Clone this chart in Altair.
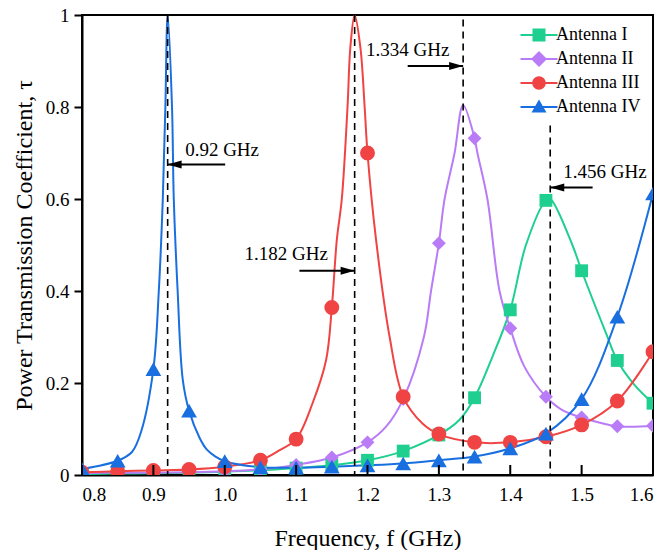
import altair as alt
import pandas as pd

# ---------------- data ----------------
series = ["Antenna I", "Antenna II", "Antenna III", "Antenna IV"]
colors = ["#1fcf8f", "#b97cf6", "#f04444", "#1a6fe0"]
marker_shapes = ["square", "diamond", "circle", "triangle-up"]
marker_sizes = [165, 250, 170, 200]

# marker frequencies (GHz)
freq = [0.80, 0.85, 0.90, 0.95, 1.00, 1.05, 1.10, 1.15, 1.20,
        1.25, 1.30, 1.35, 1.40, 1.45, 1.50, 1.55, 1.60]

# transmission coefficient at the markers
ant1 = [0.002, 0.003, 0.004, 0.005, 0.007, 0.010, 0.015, 0.021, 0.032,
        0.052, 0.087, 0.168, 0.359, 0.597, 0.444, 0.249, 0.156]
ant2 = [0.004, 0.005, 0.005, 0.006, 0.008, 0.012, 0.022, 0.038, 0.071,
        0.165, 0.504, 0.732, 0.319, 0.170, 0.125, 0.106, 0.107]
ant3 = [0.006, 0.008, 0.010, 0.012, 0.018, 0.032, 0.078, 0.364, 0.700,
        0.170, 0.089, 0.071, 0.071, 0.083, 0.109, 0.161, 0.268]
ant4 = [0.013, 0.031, 0.230, 0.140, 0.030, 0.017, 0.016, 0.018, 0.021,
        0.025, 0.032, 0.040, 0.058, 0.090, 0.165, 0.344, 0.612]

# additional points (between markers)
ant1_cf = [1.329, 1.375, 1.422, 1.456, 1.487, 1.534, 1.574]
ant1_ct = [0.120, 0.257, 0.500, 0.600, 0.500, 0.309, 0.196]
ant2_cf = [1.226, 1.279, 1.289, 1.308, 1.322, 1.334, 1.354, 1.368, 1.385, 1.420, 1.473]
ant2_ct = [0.105, 0.300, 0.400, 0.600, 0.700, 0.804, 0.700, 0.600, 0.400, 0.235, 0.141]
ant3_cf = [1.077, 1.123, 1.142, 1.157, 1.164, 1.172, 1.176, 1.182, 1.190, 1.196,
           1.212, 1.231, 1.277]
ant3_ct = [0.054, 0.156, 0.250, 0.511, 0.600, 0.800, 0.930, 1.000, 0.930, 0.800,
           0.511, 0.300, 0.112]
ant4_cf = [0.870, 0.883, 0.9076, 0.9132, 0.9168, 0.920, 0.9261, 0.9286, 0.934,
           0.9412, 0.965, 0.975, 0.987]
ant4_ct = [0.050, 0.095, 0.400, 0.600, 0.800, 1.000, 0.800, 0.600, 0.400,
           0.207, 0.080, 0.055, 0.040]

# resonance annotations
res_freq = [0.92, 1.182, 1.334, 1.456]
res_label = ["0.92 GHz", "1.182 GHz", "1.334 GHz", "1.456 GHz"]
dash_top = [1.0, 1.0, 0.99, 0.76]
arrow_tail = [1.0006, 1.1046, 1.2563, 1.5154]
arrow_y = [0.675, 0.444, 0.889, 0.625]
arrow_angle = [0, 180, 180, 0]
label_x = [0.9445, 1.0276, 1.198, 1.4744]
label_y = [0.706, 0.480, 0.924, 0.659]

x_ticks = [0.8, 0.9, 1.0, 1.1, 1.2, 1.3, 1.4, 1.5, 1.6]
y_ticks = [0, 0.2, 0.4, 0.6, 0.8, 1.0]

# ---------------- tables ----------------
markers = []
curves = []
all_vals = [ant1, ant2, ant3, ant4]
all_cf = [ant1_cf, ant2_cf, ant3_cf, ant4_cf]
all_ct = [ant1_ct, ant2_ct, ant3_ct, ant4_ct]
for s, vals, cf, ct in zip(series, all_vals, all_cf, all_ct):
    for f, t in zip(freq, vals):
        markers.append({"series": s, "f": f, "tau": t})
        curves.append({"series": s, "f": f, "tau": t})
    for f, t in zip(cf, ct):
        curves.append({"series": s, "f": f, "tau": t})
markers = pd.DataFrame(markers)
curves = pd.DataFrame(curves).sort_values(["series", "f"]).reset_index(drop=True)

ann = pd.DataFrame({"f": res_freq, "label": res_label, "top": dash_top,
                    "tail": arrow_tail, "ay": arrow_y, "angle": arrow_angle,
                    "lx": label_x, "ly": label_y})
ticks_df = pd.DataFrame({"f": x_ticks})
legend_df = pd.DataFrame({"legend": series})

FONT = "Liberation Serif"

xscale = alt.Scale(domain=[0.8, 1.6], nice=False, zero=False)
yscale = alt.Scale(domain=[0, 1], nice=False, zero=False)

x_axis = alt.Axis(values=x_ticks, format=".1f", title="Frequency, f (GHz)",
                  ticks=False, labelPadding=10, titleY=70,
                  titleBaseline="alphabetic",
                  labelFont=FONT, labelFontSize=19, labelColor="black",
                  titleFont=FONT, titleFontSize=24, titleFontWeight="normal",
                  titleColor="black", domainColor="black", domainWidth=2,
                  grid=False)
y_axis = alt.Axis(values=y_ticks, format="~g",
                  title="Power Transmission Coefficient, \u03c4",
                  tickSize=8, tickWidth=2, tickColor="black", labelPadding=5,
                  titleX=-51, titleBaseline="alphabetic",
                  labelFont=FONT, labelFontSize=19, labelColor="black",
                  titleFont=FONT, titleFontSize=24, titleFontWeight="normal",
                  titleColor="black", domainColor="black", domainWidth=2,
                  grid=False)


def xq(field):
    return alt.X(field, type="quantitative", scale=xscale, axis=x_axis)


def yq(field):
    return alt.Y(field, type="quantitative", scale=yscale, axis=y_axis)


color_sc = alt.Scale(domain=series, range=colors)

lines = alt.Chart(curves).mark_line(strokeWidth=2, interpolate="catmull-rom", clip=True).encode(
    x=xq("f"), y=yq("tau"),
    color=alt.Color("series:N", scale=color_sc, legend=None),
    detail="series:N",
    order="f:Q",
)

pts = alt.Chart(markers).mark_point(filled=True, opacity=1, clip=True).encode(
    x=xq("f"),
    y=yq("tau"),
    color=alt.Color("series:N", scale=color_sc, legend=None),
    shape=alt.Shape("series:N", scale=alt.Scale(domain=series, range=marker_shapes), legend=None),
    size=alt.Size("series:N", scale=alt.Scale(domain=series, range=marker_sizes), legend=None),
)

dashes = alt.Chart(ann).mark_rule(color="black", strokeWidth=1.6, strokeDash=[7, 5]).encode(
    x=xq("f"),
    y=yq("top"),
    y2=alt.Y2Datum(0),
)

shafts = alt.Chart(ann).mark_rule(color="black", strokeWidth=2).encode(
    x=xq("tail"),
    x2="f:Q",
    y=yq("ay"),
)

heads = alt.Chart(ann).mark_point(filled=True, opacity=1, color="black",
                                  shape="M0,0L3.5,-1L3.5,1Z", size=64).encode(
    x=xq("f"),
    y=yq("ay"),
    angle=alt.Angle("angle:Q", scale=None),
)

labels = alt.Chart(ann).mark_text(align="left", baseline="middle", font=FONT,
                                  fontSize=19, color="black").encode(
    x=xq("lx"),
    y=yq("ly"),
    text="label:N",
)

xticks = alt.Chart(ticks_df).mark_rule(color="black", strokeWidth=2).encode(
    x=xq("f"),
    y=alt.value(460),
    y2=alt.value(450),
)

legend_paths = [
    "M-3.7,-0.2H3.7V0.2H-3.7Z M-1.3,-1.3H1.3V1.3H-1.3Z",
    "M-3.7,-0.2H3.7V0.2H-3.7Z M0,-1.6L1.6,0L0,1.6L-1.6,0Z",
    "M-3.7,-0.2H3.7V0.2H-3.7Z M-1.35,0A1.35,1.35,0,1,1,1.35,0A1.35,1.35,0,1,1,-1.35,0Z",
    "M-3.7,-0.2H3.7V0.2H-3.7Z M0,-1.5L1.5,1.1L-1.5,1.1Z",
]
leg = alt.Legend(title=None, orient="none", legendX=448, legendY=11,
                 labelFont=FONT, labelFontSize=18, labelColor="black",
                 symbolSize=100, labelOffset=8, rowPadding=6, padding=0)
legend_layer = alt.Chart(legend_df).transform_filter("false").mark_point(
    filled=True, opacity=1).encode(
    color=alt.Color("legend:N", scale=alt.Scale(domain=series, range=colors), legend=leg),
    shape=alt.Shape("legend:N", scale=alt.Scale(domain=series, range=legend_paths), legend=leg),
)

chart = alt.layer(lines, dashes, pts, shafts, heads, labels, xticks, legend_layer).resolve_scale(
    color="independent", shape="independent", size="independent"
).properties(
    width=571, height=460,
    autosize=alt.AutoSizeParams(type="none"),
    padding={"left": 82, "top": 15, "right": 14, "bottom": 75},
).configure(
    font=FONT,
).configure_axis(
    labelFont=FONT, titleFont=FONT,
).configure_text(
    font=FONT,
).configure_view(
    stroke="black", strokeWidth=2,
)

chart.save("out.html", embed_options={"renderer": "svg", "actions": False})
